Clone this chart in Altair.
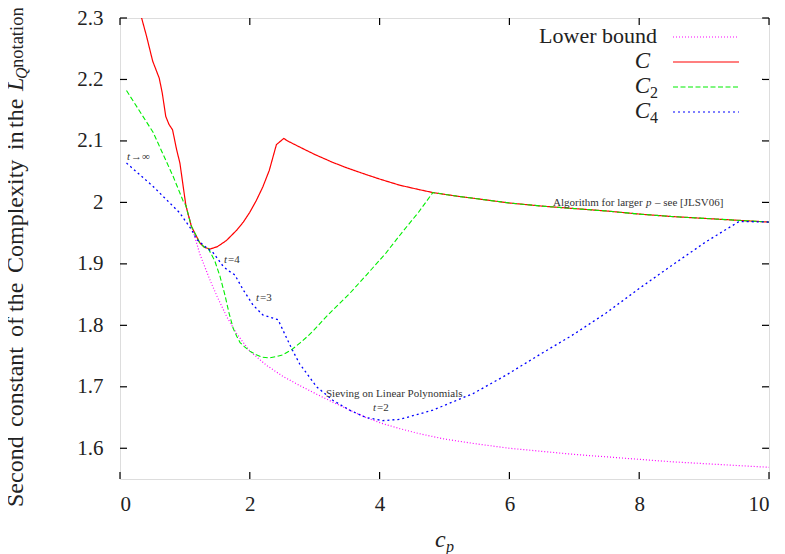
import altair as alt
import pandas as pd

# ---------------- data ----------------
LB_X = [1.0, 1.10, 1.15, 1.23, 1.385, 1.5, 1.65, 1.8, 2.0, 2.257, 2.51, 2.77, 3.03, 3.28,
        3.54, 3.79, 4.05, 4.31, 4.6, 5.0, 5.5, 6.0, 6.5, 7.0, 7.5, 8.0, 8.5, 9.0, 9.5, 10.0]
LB_Y = [2.0, 1.962, 1.945, 1.916, 1.874, 1.846, 1.813, 1.786, 1.758, 1.735, 1.717, 1.702, 1.688,
        1.675, 1.662, 1.650, 1.640, 1.632, 1.624, 1.615, 1.607, 1.600, 1.595, 1.590, 1.586,
        1.582, 1.578, 1.575, 1.572, 1.569]

C_X = [0.28, 0.333, 0.41, 0.503, 0.605, 0.651, 0.705, 0.754, 0.81, 0.872, 0.923, 1.015, 1.10,
       1.23, 1.30, 1.385, 1.5, 1.64, 1.8, 1.9, 2.0, 2.1, 2.2, 2.3, 2.41, 2.523, 2.6, 2.77, 3.0,
       3.28, 3.5, 3.8, 4.0, 4.31, 4.6, 4.82, 5.2, 5.5, 6.0, 6.5, 6.87, 7.5, 8.0, 8.5, 9.0, 9.5,
       10.0]
C_Y = [2.33, 2.300, 2.270, 2.230, 2.202, 2.178, 2.140, 2.127, 2.118, 2.086, 2.064, 1.995, 1.961,
       1.934, 1.927, 1.924, 1.928, 1.938, 1.955, 1.968, 1.984, 2.003, 2.025, 2.052, 2.094, 2.104,
       2.099, 2.090, 2.078, 2.065, 2.056, 2.045, 2.038, 2.028, 2.021, 2.016, 2.010, 2.006, 1.999,
       1.994, 1.991, 1.986, 1.981, 1.977, 1.974, 1.971, 1.968]

C2_X = [0.1, 0.51, 0.82, 0.974, 1.015, 1.10, 1.23, 1.30, 1.36, 1.46, 1.54, 1.615, 1.68, 1.744,
        1.8, 1.85, 1.92, 2.0, 2.1, 2.2, 2.3, 2.4, 2.51, 2.64, 2.77, 2.9, 3.03, 3.15, 3.28, 3.54,
        3.79, 4.1, 4.36, 4.6, 4.82, 5.2, 5.5, 6.0, 6.5, 6.87, 7.5, 8.0, 8.5, 9.0, 9.5, 10.0]
C2_Y = [2.182, 2.114, 2.042, 2.002, 1.995, 1.961, 1.934, 1.927, 1.925, 1.905, 1.880, 1.850, 1.820,
        1.795, 1.782, 1.772, 1.765, 1.758, 1.752, 1.748, 1.747, 1.749, 1.752, 1.760, 1.771, 1.783,
        1.797, 1.811, 1.825, 1.852, 1.881, 1.918, 1.953, 1.984, 2.016, 2.010, 2.006, 1.999, 1.994,
        1.991, 1.986, 1.981, 1.977, 1.974, 1.971, 1.968]

C4_X = [0.1, 0.51, 0.92, 1.10, 1.18, 1.28, 1.35, 1.436, 1.59, 1.67, 1.77, 1.897, 2.05, 2.2,
        2.436, 2.56, 2.67, 2.77, 3.03, 3.28, 3.44, 3.54, 3.79, 4.05, 4.31, 4.82, 5.44, 5.95, 6.46,
        6.97, 7.49, 8.0, 8.51, 9.03, 9.54, 10.0]
C4_Y = [2.064, 2.026, 1.983, 1.956, 1.940, 1.931, 1.925, 1.918, 1.896, 1.889, 1.882, 1.858, 1.833,
        1.817, 1.809, 1.781, 1.757, 1.737, 1.700, 1.678, 1.668, 1.662, 1.650, 1.645, 1.647, 1.662,
        1.689, 1.719, 1.752, 1.784, 1.820, 1.860, 1.898, 1.936, 1.969, 1.968]

X_TICKS = [0, 2, 4, 6, 8, 10]
Y_TICKS = [1.6, 1.7, 1.8, 1.9, 2.0, 2.1, 2.2, 2.3]

LEGEND_LABELS = ["Lower bound", "C", "C", "C"]
LEGEND_SUBS = ["", "", "2", "4"]
SERIES_COLORS = ["#ff00ff", "#ff0000", "#00ee00", "#0000ff"]
SERIES_DASH = [[1, 2], [1, 0], [5, 2.5], [2, 3]]

# y-axis title words: "Second constant of the Complexity in the L_Q notation"
Y_TITLE_WORDS = ["Second", "constant", "of", "the", "Complexity", "in", "the"]
Y_TITLE_VAR = "L"
Y_TITLE_SUB = "Q"
Y_TITLE_END = "notation"
X_TITLE_VAR = "c"
X_TITLE_SUB = "p"

FONT = "Liberation Serif, Times New Roman, serif"
W, H = 649, 461

xs = alt.Scale(domain=[0, 10], nice=False, zero=False)
ys = alt.Scale(domain=[1.55, 2.3], nice=False, zero=False)
x_axis = alt.Axis(values=X_TICKS, title=None, ticks=False, tickSize=0, domain=False, grid=False,
                  labelFont=FONT, labelFontSize=21, labelColor="#222", labelPadding=14,
                  format="d")
y_axis = alt.Axis(values=Y_TICKS, title=None, ticks=False, tickSize=0, domain=False, grid=False,
                  labelFont=FONT, labelFontSize=21, labelColor="#222", labelPadding=17,
                  labelExpr="datum.value == 2 ? '2' : format(datum.value, '.1f')")
X = alt.X("x:Q", scale=xs, axis=x_axis)
Y = alt.Y("y:Q", scale=ys, axis=y_axis)


def series(xv, yv, color, dash, width=1.1):
    df = pd.DataFrame({"x": xv, "y": yv})
    return alt.Chart(df).mark_line(color=color, strokeDash=dash, strokeWidth=width,
                                   clip=True).encode(x=X, y=Y)


layers = [
    series(LB_X, LB_Y, SERIES_COLORS[0], SERIES_DASH[0], 1.2),
    series(C_X, C_Y, SERIES_COLORS[1], SERIES_DASH[1], 1.2),
    series(C2_X, C2_Y, SERIES_COLORS[2], SERIES_DASH[2], 1.1),
    series(C4_X, C4_Y, SERIES_COLORS[3], SERIES_DASH[3], 1.3),
]

# inward ticks on all four sides
xt = alt.Chart(pd.DataFrame({"x": X_TICKS}))
yt = alt.Chart(pd.DataFrame({"y": Y_TICKS}))
TL = 7
layers += [
    xt.mark_rule(color="black", strokeWidth=1.2).encode(x=X, y=alt.value(H), y2=alt.value(H - TL)),
    xt.mark_rule(color="black", strokeWidth=1.2).encode(x=X, y=alt.value(0), y2=alt.value(TL)),
    yt.mark_rule(color="black", strokeWidth=1.2).encode(y=Y, x=alt.value(0), x2=alt.value(TL)),
    yt.mark_rule(color="black", strokeWidth=1.2).encode(y=Y, x=alt.value(W), x2=alt.value(W - TL)),
]

one = pd.DataFrame({"a": [0]})


def txt(s, x, y, size=11, style="normal", align="left", angle=0, color="#333",
        baseline="alphabetic"):
    kw = dict(text=s, fontSize=size, font=FONT, fontStyle=style, align=align, color=color,
              baseline=baseline)
    if angle:
        kw["angle"] = angle
    return alt.Chart(one).mark_text(**kw).encode(x=alt.value(x), y=alt.value(y))


# legend (gnuplot style: right-aligned labels, line samples to the right)
row_line = [19, 44, 69, 94]
row_base = [25, 50, 75, 100]
for i in range(4):
    if i == 0:
        layers.append(txt(LEGEND_LABELS[i], 537, row_base[i], size=22, align="right",
                          color="#222"))
    else:
        layers.append(txt(LEGEND_LABELS[i], 530, row_base[i], size=23, style="italic",
                          align="right", color="#222"))
        if LEGEND_SUBS[i]:
            layers.append(txt(LEGEND_SUBS[i], 530, row_base[i] + 5, size=16, color="#222"))
    layers.append(
        alt.Chart(one).mark_rule(color=SERIES_COLORS[i], strokeDash=SERIES_DASH[i],
                                 strokeWidth=1.2)
        .encode(x=alt.value(553), x2=alt.value(619), y=alt.value(row_line[i]))
    )

# annotations
layers += [
    txt("t", 7, 142, style="italic"), txt("\u2192\u221e", 11, 142),
    txt("t", 104, 245, style="italic"), txt("=4", 108, 245),
    txt("t", 136, 283, style="italic"), txt("=3", 140, 283),
    txt("Sieving on Linear Polynomials", 206, 379),
    txt("t", 253, 393, style="italic"), txt("=2", 257, 393),
    txt("Algorithm for larger", 433, 188),
    txt("p", 526, 188, style="italic"),
    txt("\u2013 see [JLSV06]", 535, 188),
]

# y-axis title (rotated, word by word, with subscript)
YB = -97
word_start = [489, 409, 319, 294, 255, 132, 110]
for w, s in zip(Y_TITLE_WORDS, word_start):
    layers.append(txt(w, YB, s, size=24, angle=270, color="#222"))
layers += [
    txt(Y_TITLE_VAR, YB, 73, size=24, style="italic", angle=270, color="#222"),
    txt(Y_TITLE_SUB, YB + 4, 61, size=16, style="italic", angle=270, color="#222"),
    txt(Y_TITLE_END, YB, 50, size=18.5, angle=270, color="#222"),
]
# x-axis title
layers += [
    txt(X_TITLE_VAR, 315, 529, size=24, style="italic", color="#222"),
    txt(X_TITLE_SUB, 326, 534, size=16, style="italic", color="#222"),
]

chart = alt.layer(*layers).properties(
    width=W, height=H,
    autosize=alt.AutoSizeParams(type="none"),
    padding={"left": 112, "top": 10, "right": 8, "bottom": 75},
).configure_view(stroke="black", strokeWidth=1.5).configure(background="white")

chart.save("out.html", embed_options={"renderer": "svg", "actions": False})
